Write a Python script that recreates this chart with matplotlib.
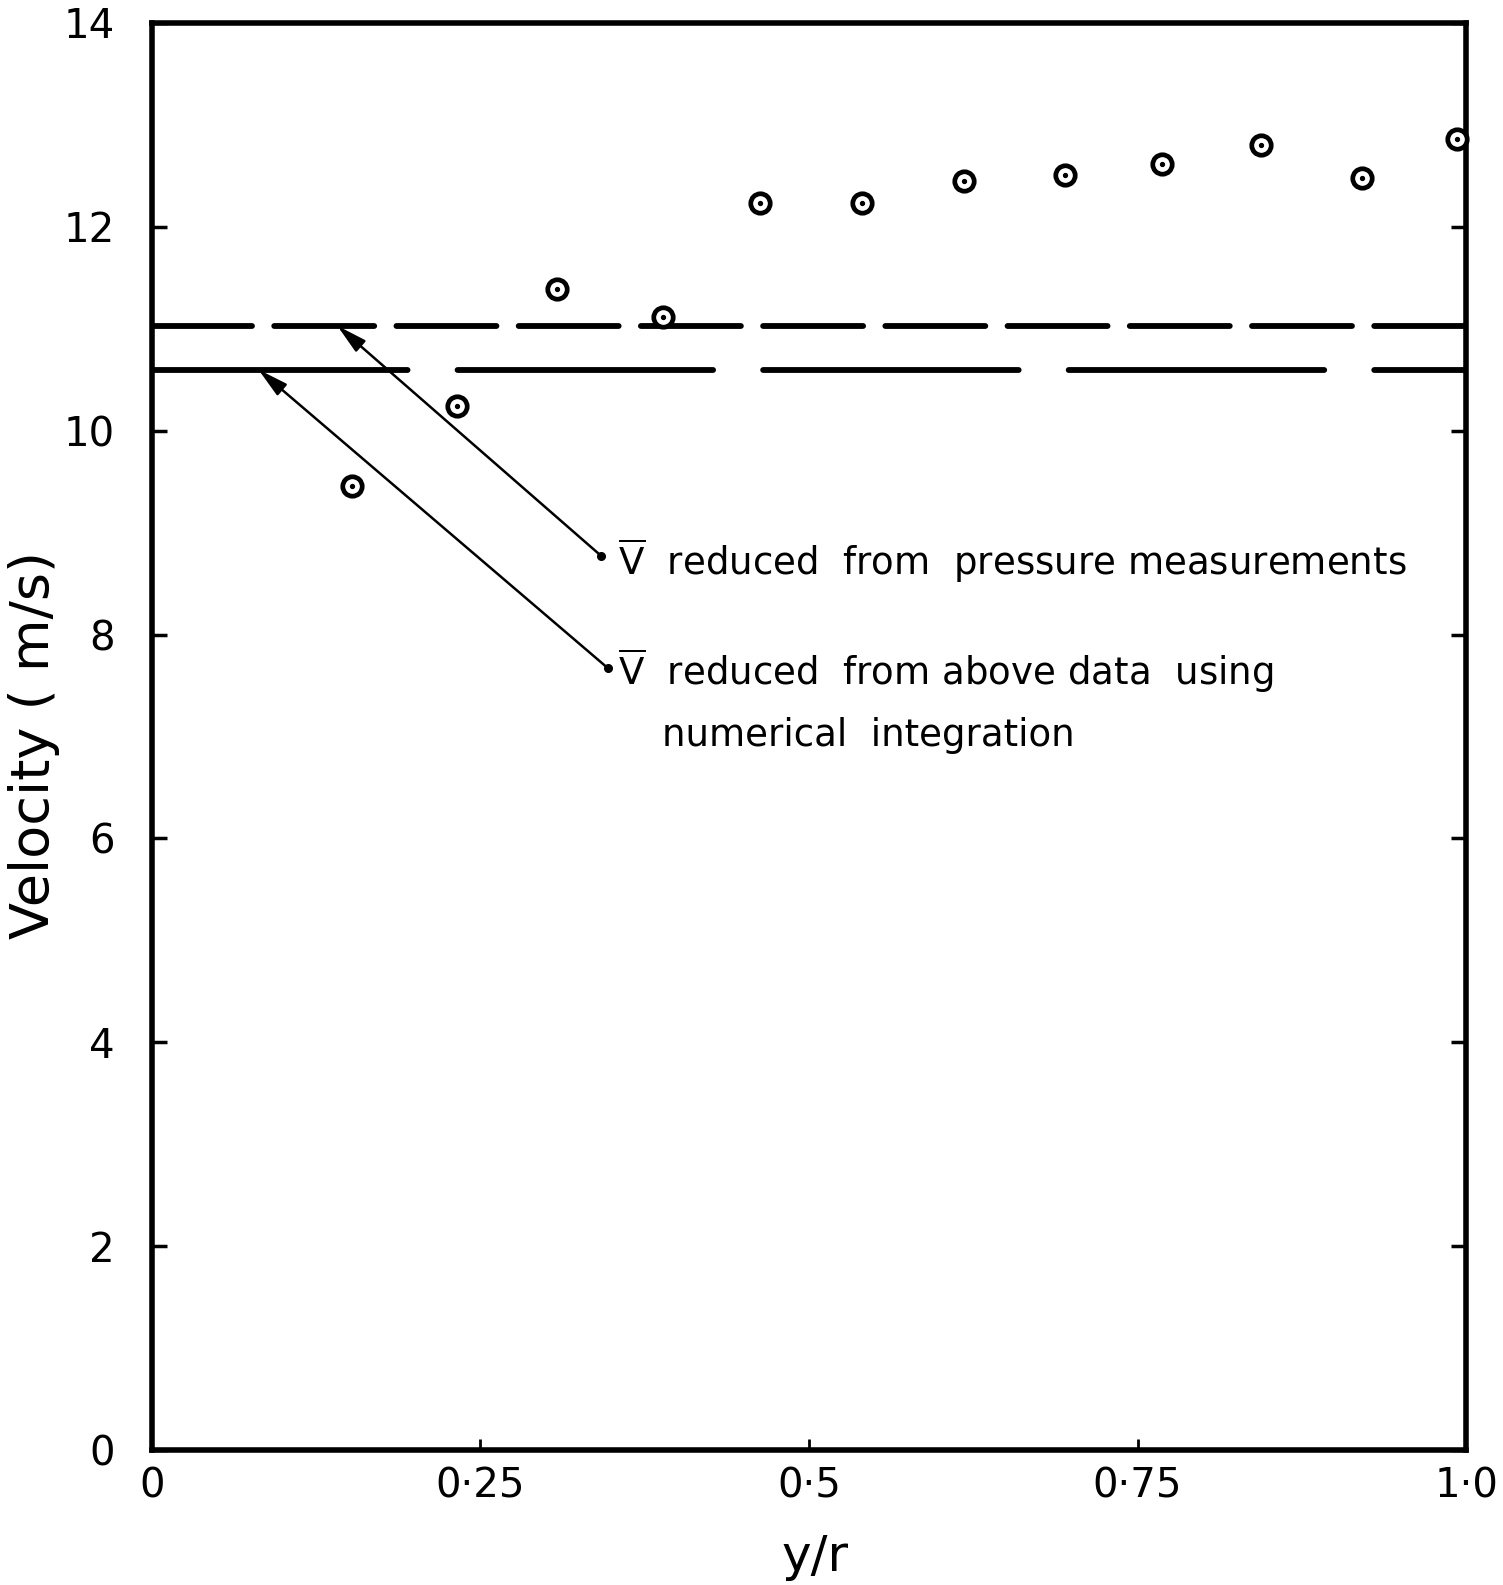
import matplotlib
matplotlib.use("Agg")
import matplotlib.pyplot as plt

# ---- data ----
y_over_r = [0.152, 0.232, 0.308, 0.389, 0.463, 0.540, 0.618, 0.695, 0.769, 0.844, 0.921, 0.993]
velocity = [9.46, 10.24, 11.39, 11.12, 12.23, 12.23, 12.45, 12.51, 12.62, 12.80, 12.48, 12.86]

v_pressure = 11.03      # V-bar reduced from pressure measurements
v_integration = 10.60   # V-bar reduced from numerical integration

x_ticks = [0, 0.25, 0.5, 0.75, 1.0]
x_tick_labels = ["0", "0\u00b725", "0\u00b75", "0\u00b775", "1\u00b70"]
y_ticks = [0, 2, 4, 6, 8, 10, 12, 14]
y_tick_labels = ["0", "2", "4", "6", "8", "10", "12", "14"]

label_pressure = r"$\overline{\mathrm{V}}$  reduced  from  pressure measurements"
label_integration_1 = r"$\overline{\mathrm{V}}$  reduced  from above data  using"
label_integration_2 = "numerical  integration"

# ---- figure ----
plt.rcParams["mathtext.fontset"] = "dejavusans"
plt.rcParams["lines.scale_dashes"] = False
fig = plt.figure(figsize=(15.03, 15.85), dpi=100)
ax = fig.add_axes([0.1011, 0.0852, 0.8743, 0.9003])

ax.set_xlim(0, 1.0)
ax.set_ylim(0, 14)

for s in ax.spines.values():
    s.set_linewidth(4.0)

ax.set_xticks(x_ticks)
ax.set_xticklabels(x_tick_labels, fontsize=29)
ax.set_yticks(y_ticks)
ax.set_yticklabels(y_tick_labels, fontsize=29)
ax.tick_params(axis="y", direction="in", length=11, width=2.5, left=True, right=True, pad=27)
ax.tick_params(axis="x", direction="in", length=8, width=2.0, bottom=True, top=False, pad=12)

# dashed reference lines
l1, = ax.plot([0, 1.0], [v_pressure, v_pressure], color="black", lw=4.2,
              dash_capstyle="round", solid_capstyle="round")
l1.set_dashes([72, 16])
l2, = ax.plot([0, 1.0], [v_integration, v_integration], color="black", lw=4.2,
              dash_capstyle="round", solid_capstyle="round")
l2.set_dashes([184, 36])

# data points: circle with centre dot
ax.plot(y_over_r, velocity, linestyle="none", marker="o", ms=14, mfc="white",
        mec="black", mew=3.4, clip_on=False, zorder=5)
ax.plot(y_over_r, velocity, linestyle="none", marker="o", ms=2.8, color="black",
        clip_on=False, zorder=6)

# annotations
arrow_kw = dict(arrowstyle="-|>,head_length=1.3,head_width=0.32", color="black",
                lw=1.8, mutation_scale=14, shrinkA=0, shrinkB=0)
ax.annotate("", xy=(0.141, v_pressure), xytext=(0.342, 8.77), arrowprops=arrow_kw)
ax.annotate("", xy=(0.081, v_integration), xytext=(0.347, 7.67), arrowprops=arrow_kw)
ax.plot([0.342, 0.347], [8.77, 7.67], linestyle="none", marker="o", ms=5.5, color="black")

ax.text(0.355, 8.72, label_pressure, fontsize=26.7, ha="left", va="center")
ax.text(0.355, 7.64, label_integration_1, fontsize=26.7, ha="left", va="center")
ax.text(0.388, 7.01, label_integration_2, fontsize=26.7, ha="left", va="center")

ax.set_ylabel("Velocity ( m/s)", fontsize=39)
ax.yaxis.label.set_verticalalignment("center")
ax.yaxis.set_label_coords(-0.0898, 0.494)
ax.set_xlabel("y/r", fontsize=36)
ax.xaxis.label.set_verticalalignment("center")
ax.xaxis.set_label_coords(0.5046, -0.075)

fig.savefig("out.png", dpi=100, facecolor="white")
